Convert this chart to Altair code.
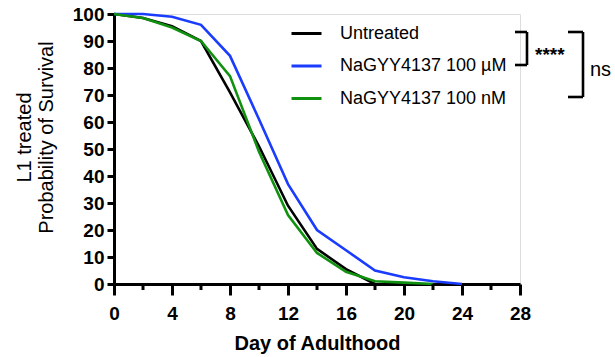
import altair as alt
import pandas as pd

days_untreated = [0, 2, 4, 6, 8, 10, 12, 14, 16, 18]
untreated = [100, 98.5, 95.5, 90, 71, 51, 29, 13, 5.5, 0]
days_um = [0, 2, 4, 6, 8, 10, 12, 14, 16, 18, 20, 22, 24]
nagyy_um = [100, 100, 99, 96, 84.5, 61, 37, 20, 12.5, 5, 2.5, 1, 0]
days_nm = [0, 2, 4, 6, 8, 10, 12, 14, 16, 18, 20, 22]
nagyy_nm = [100, 98.5, 95, 90, 77, 49, 25.5, 11.5, 4.5, 1, 0.5, 0]

series_names = ["Untreated", "NaGYY4137 100 µM", "NaGYY4137 100 nM"]
series_colors = ["#000000", "#1a3cff", "#119110"]
major_ticks = [0, 4, 8, 12, 16, 20, 24, 28]
minor_ticks = [2, 6, 10, 14, 18, 22, 26]
y_ticks = [0, 10, 20, 30, 40, 50, 60, 70, 80, 90, 100]

rows = []
for name, dd, vv in [
    (series_names[0], days_untreated, untreated),
    (series_names[1], days_um, nagyy_um),
    (series_names[2], days_nm, nagyy_nm),
]:
    for i, (d, v) in enumerate(zip(dd, vv)):
        rows.append({"series": name, "day": d, "value": v, "order": i})
df = pd.DataFrame(rows)

FONT = "Liberation Sans"
W, H = 406, 270

xscale = alt.Scale(domain=[0, 28], nice=False)
yscale = alt.Scale(domain=[0, 100], nice=False)

lines = alt.Chart(df).mark_line(strokeWidth=2.6, clip=False).encode(
    x=alt.X("day:Q", scale=xscale,
            axis=alt.Axis(values=major_ticks, title="Day of Adulthood",
                          tickSize=11, tickWidth=3, domainWidth=3,
                          domainColor="black", tickColor="black",
                          labelFont=FONT, labelFontSize=19, labelFontWeight="bold",
                          labelColor="black", labelPadding=9, labelFlush=False,
                          titleFont=FONT, titleFontSize=20, titleFontWeight="bold",
                          titleColor="black", titlePadding=10, grid=False)),
    y=alt.Y("value:Q", scale=yscale,
            axis=alt.Axis(values=y_ticks, title=["L1 treated", "Probability of Survival"],
                          tickSize=7, tickWidth=3, domainWidth=3,
                          domainColor="black", tickColor="black",
                          labelFont=FONT, labelFontSize=19, labelFontWeight="bold",
                          labelColor="black", labelPadding=3, labelFlush=False,
                          titleFont=FONT, titleFontSize=20, titleFontWeight="normal",
                          titleColor="black", titleLineHeight=22,
                          titleX=-80, titleY=123, grid=False)),
    color=alt.Color("series:N",
                    scale=alt.Scale(domain=series_names, range=series_colors),
                    legend=alt.Legend(title=None, orient="none", legendX=176, legendY=3,
                                      symbolType="stroke", symbolSize=900,
                                      symbolStrokeWidth=3, labelFont=FONT,
                                      labelFontSize=18, labelColor="black",
                                      labelLimit=400,
                                      labelOffset=17, rowPadding=6.5, padding=0)),
    order="order:Q",
)

minor_df = pd.DataFrame({"day": minor_ticks})
minor = alt.Chart(minor_df).mark_rule(strokeWidth=3, color="black", clip=False).encode(
    x=alt.X("day:Q", scale=xscale),
    y=alt.value(H),
    y2=alt.value(H + 6),
)

def rule(x1, x2, y1, y2):
    return alt.Chart(pd.DataFrame({"k": [0]})).mark_rule(
        strokeWidth=2.6, color="black", clip=False
    ).encode(x=alt.value(x1), x2=alt.value(x2), y=alt.value(y1), y2=alt.value(y2))

brackets = [
    rule(401, 413, 18, 18), rule(413, 413, 18, 51), rule(401, 413, 51, 51),
    rule(454, 469, 18, 18), rule(469, 469, 18, 83), rule(454, 469, 83, 83),
]

stars = alt.Chart(pd.DataFrame({"t": ["****"]})).mark_text(
    font=FONT, fontSize=19, fontWeight="bold", align="left", baseline="alphabetic",
    color="black", clip=False
).encode(x=alt.value(421), y=alt.value(47), text="t:N")

ns = alt.Chart(pd.DataFrame({"t": ["ns"]})).mark_text(
    font=FONT, fontSize=20, align="left", baseline="alphabetic",
    color="black", clip=False
).encode(x=alt.value(476), y=alt.value(62), text="t:N")

chart = alt.layer(lines, minor, *brackets, stars, ns).properties(
    width=W, height=H,
    autosize=alt.AutoSizeParams(type="none"),
    padding={"left": 114, "top": 14, "right": 95, "bottom": 73},
).configure_view(stroke=None).configure(background="white")

chart.save("out.html", embed_options={"renderer": "svg", "actions": False})
